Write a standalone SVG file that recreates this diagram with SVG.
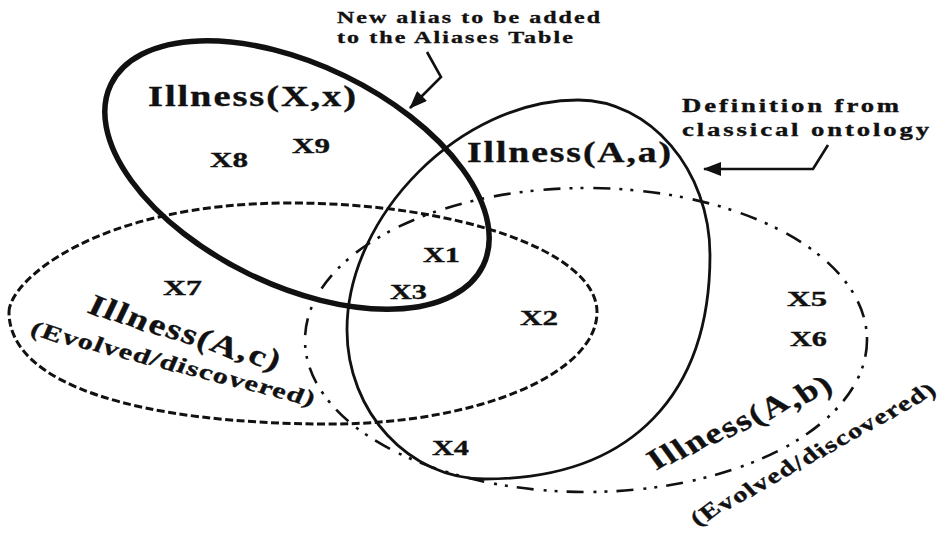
<svg xmlns="http://www.w3.org/2000/svg" width="946" height="544" viewBox="0 0 946 544">
<defs>
<style>
.bg{fill:#fff}
.t{font-family:"Liberation Serif","Times New Roman",serif;font-weight:bold;fill:#111;stroke:#111;stroke-width:0.35}
.lbl{font-size:30px;letter-spacing:1.5px}
.sub{font-size:22px;letter-spacing:1px}
.pt{font-size:22px}
.note{font-size:17.5px;letter-spacing:1.5px}
.note2{font-size:18.5px;letter-spacing:2px}
.set{fill:none;stroke:#111}
.thick{stroke-width:5.5}
.solid{stroke-width:2.8}
.dash{stroke-width:3;stroke-dasharray:8 3.5}
.dashdot{stroke-width:2.6;stroke-dasharray:17 9 3 8 3 10}
.conn{fill:none;stroke:#111;stroke-width:2.6;stroke-linejoin:miter}
</style>
<marker id="ah" markerUnits="userSpaceOnUse" viewBox="0 0 18 14" refX="17" refY="7" markerWidth="18" markerHeight="14" orient="auto">
<path d="M0,0 L18,7 L0,14 z" fill="#111"/>
</marker>
</defs>
<rect class="bg" width="946" height="544"/>

<g id="illness-Ac">
<path class="set dash" d="M9,312 C9,282 95,203 290,203 C459,203 597,252 597,312 C597,374 477,424 330,424 C140,424 9,385 9,312 Z"/>
<text class="t lbl" transform="translate(86,312) rotate(17)" textLength="200" lengthAdjust="spacingAndGlyphs" rotate="7">Illness(A,c)</text>
<text class="t sub" transform="translate(29,334) rotate(14.2)" textLength="293" lengthAdjust="spacingAndGlyphs" rotate="7">(Evolved/discovered)</text>
</g>

<g id="illness-Ab">
<ellipse class="set dashdot" cx="586" cy="340" rx="281" ry="152"/>
<text class="t lbl" transform="translate(656,471) rotate(-24)" textLength="198" lengthAdjust="spacingAndGlyphs" rotate="-10">Illness(A,b)</text>
<text class="t sub" transform="translate(698,527) rotate(-29)" textLength="276" lengthAdjust="spacingAndGlyphs" rotate="-10">(Evolved/discovered)</text>
</g>

<g id="illness-Aa">
<path class="set solid" d="M578,100 C650,100 710,170 710,255 C710,392 634,479 485,479 C409,479 347,412 347,330 C347,215 461,100 578,100 Z"/>
<text class="t lbl" x="467" y="162" textLength="206" lengthAdjust="spacingAndGlyphs">Illness(A,a)</text>
</g>

<g id="illness-Xx">
<ellipse class="set thick" cx="297" cy="175" rx="207" ry="110" transform="rotate(26 297 175)"/>
<text class="t lbl" x="148" y="106" textLength="210" lengthAdjust="spacingAndGlyphs">Illness(X,x)</text>
</g>

<g id="x1"><text class="t pt" x="423" y="262" textLength="37" lengthAdjust="spacingAndGlyphs">X1</text></g>
<g id="x2"><text class="t pt" x="520" y="325" textLength="38" lengthAdjust="spacingAndGlyphs">X2</text></g>
<g id="x3"><text class="t pt" x="390" y="299" textLength="37" lengthAdjust="spacingAndGlyphs">X3</text></g>
<g id="x4"><text class="t pt" x="432" y="455" textLength="37" lengthAdjust="spacingAndGlyphs">X4</text></g>
<g id="x5"><text class="t pt" x="787" y="306" textLength="40" lengthAdjust="spacingAndGlyphs">X5</text></g>
<g id="x6"><text class="t pt" x="790" y="346" textLength="37" lengthAdjust="spacingAndGlyphs">X6</text></g>
<g id="x7"><text class="t pt" x="163" y="295" textLength="39" lengthAdjust="spacingAndGlyphs">X7</text></g>
<g id="x8"><text class="t pt" x="210" y="167" textLength="38" lengthAdjust="spacingAndGlyphs">X8</text></g>
<g id="x9"><text class="t pt" x="292" y="153" textLength="38" lengthAdjust="spacingAndGlyphs">X9</text></g>

<g id="note-alias">
<text class="t note" x="337" y="23" textLength="265" lengthAdjust="spacingAndGlyphs">New alias to be added</text>
<text class="t note" x="337" y="43" textLength="238" lengthAdjust="spacingAndGlyphs">to the Aliases Table</text>
</g>

<g id="note-definition">
<text class="t note2" x="682" y="112" textLength="220" lengthAdjust="spacingAndGlyphs">Definition from</text>
<text class="t note2" x="682" y="136" textLength="250" lengthAdjust="spacingAndGlyphs">classical ontology</text>
</g>

<g id="connectors">
<polyline class="conn" points="427,52 441,77 410,108" marker-end="url(#ah)"/>
<polyline class="conn" points="828,145 813,169 704,169" marker-end="url(#ah)"/>
</g>
</svg>
